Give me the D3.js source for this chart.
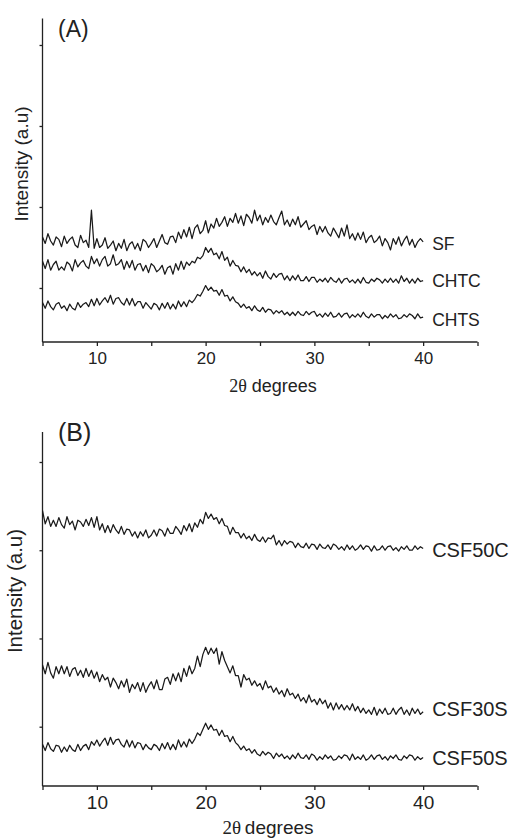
<!DOCTYPE html>
<html>
<head>
<meta charset="utf-8">
<script src="https://cdn.jsdelivr.net/npm/d3@7"></script>
<style>
  body { margin: 0; background: #fff; }
  svg { display: block; font-family: "Liberation Sans", Arial, sans-serif; }
  .axis path, .axis line { stroke: #222; stroke-width: 1.3; }
  .trace { fill: none; stroke: #1a1a1a; stroke-width: 1.25; stroke-linejoin: round; }
</style>
</head>
<body>
<div id="chart-area"></div>
<script>
// XRD patterns, 2theta from 5 to 40 deg, one reading every 0.25 deg (arbitrary intensity units)
const thetaStart = 5, thetaStep = 0.25;
const xTicks = [5, 10, 15, 20, 25, 30, 35, 40, 45];
const xTickLabels = ["", "10", "", "20", "", "30", "", "40", ""];
const yTicks = [100, 200, 300, 400];

// panel A
const namesA = ["SF", "CHTC", "CHTS"];
const SF = [
  163,155,167,158, 153,163,160,151, 164,155,160,163, 153,150,165,156, 159,150,196,149,
  161,150,153,162, 149,153,158,146, 155,149,160,146, 154,157,148,155, 146,160,157,150,
  155,161,150,158, 166,156,154,163, 164,156,169,161, 172,163,175,161, 174,178,167,171,
  183,168,179,174, 186,176,181,188, 176,186,181,192, 180,189,177,191, 187,180,196,183,
  190,178,187,181, 190,182,178,187, 195,178,184,176, 185,178,188,175, 179,183,172,176,
  178,166,176,169, 176,168,164,174, 168,162,174,164, 178,161,167,159, 168,160,169,156,
  162,165,156,159, 164,152,161,156, 147,161,154,163, 152,159,164,153, 160,150,157,161,
  157];
const CHTC = [
  133,124,135,122, 129,133,122,126, 122,132,129,121, 135,126,131,134, 127,124,139,130,
  136,127,135,139, 127,130,141,128, 130,135,123,133, 125,134,122,129, 130,121,128,119,
  130,127,120,123, 128,117,125,127, 117,130,122,133, 123,132,128,133, 131,138,136,140,
  150,144,149,141, 143,136,145,134, 138,127,134,128, 127,120,126,119, 123,116,120,115,
  119,112,121,114, 111,118,113,117, 118,110,115,109, 115,110,116,109, 109,114,108,113,
  113,107,111,108, 112,107,113,109, 107,112,106,111, 112,107,110,106, 111,106,113,107,
  106,111,108,112, 110,106,111,107, 112,107,111,106, 115,108,112,106, 111,106,112,108,
  109];
const CHTS = [
  82,75,84,77, 73,80,82,75, 78,72,80,75, 73,82,76,80, 82,77,86,78,
  87,79,84,88, 82,91,80,87, 88,82,79,87, 79,87,78,83, 83,75,82,78,
  74,81,79,73, 81,75,82,74, 80,74,84,77, 83,77,85,82, 86,92,90,96,
  103,97,101,96, 97,91,98,90, 91,84,89,83, 81,76,80,75, 77,72,78,73,
  71,76,70,74, 73,68,72,69, 72,67,70,66, 70,66,71,67, 66,71,67,70,
  71,65,68,64, 69,65,70,64, 65,69,64,68, 69,63,67,64, 68,64,70,65,
  63,68,64,67, 67,62,66,63, 68,64,67,62, 63,67,64,68, 66,62,68,63,
  64];

// panel B
const namesB = ["CSF50C", "CSF30S", "CSF50S"];
const CSF50C = [
  345,330,338,327, 334,327,337,329, 325,338,329,333, 323,334,332,327, 335,328,337,326,
  338,323,330,320, 328,320,329,323, 319,327,318,324, 323,316,321,314, 321,316,323,314,
  317,323,316,324, 322,316,325,319, 319,327,323,318, 328,322,330,321, 331,326,335,330,
  343,336,341,335, 337,330,336,328, 327,318,326,320, 320,314,319,313, 316,311,318,312,
  310,315,309,314, 313,317,306,311, 305,311,307,310, 309,303,308,304, 303,308,302,307,
  306,301,307,303, 302,306,301,307, 305,301,304,300, 306,301,305,300, 302,306,301,305,
  304,299,305,300, 301,305,300,304, 305,300,303,299, 304,301,305,300, 300,305,301,304,
  302];
const CSF30S = [
  170,160,173,161, 155,168,160,169, 160,168,157,165, 167,158,164,156, 166,157,164,155,
  162,151,159,153, 156,145,155,150, 143,152,145,154, 139,148,143,150, 140,150,139,146,
  151,143,153,142, 142,154,156,148, 160,152,161,151, 166,157,169,160, 166,180,168,182,
  190,182,189,183, 189,171,185,175, 168,161,169,158, 158,145,159,153, 155,147,152,146,
  149,142,152,144, 146,139,144,137, 141,134,143,136, 138,132,137,129, 133,127,136,128,
  131,125,132,126, 130,121,127,119, 127,120,125,119, 124,119,126,118, 123,116,121,115,
  119,114,122,113, 120,115,121,114, 115,121,114,119, 122,114,119,113, 121,115,120,114,
  117];
const CSF50S = [
  80,73,82,75, 72,79,78,71, 77,72,79,74, 72,80,73,78, 80,74,83,79,
  85,78,83,87, 79,88,80,85, 86,80,77,85, 77,84,76,82, 81,74,80,76,
  74,80,78,73, 81,75,82,74, 80,74,85,77, 83,77,86,81, 86,93,90,97,
  104,97,102,96, 97,90,96,89, 90,83,89,82, 79,74,78,73, 75,70,74,69,
  67,72,68,71, 69,64,70,66, 69,64,67,63, 68,64,70,65, 64,68,63,69,
  67,62,66,63, 68,64,67,62, 63,67,64,68, 67,62,69,63, 66,63,68,62,
  64,68,63,67, 68,63,66,62, 67,64,68,63, 62,67,64,68, 67,62,66,63,
  65];

const W = 512, H = 839;
const svg = d3.select("#chart-area").append("svg")
  .attr("width", W).attr("height", H);

function drawPanel(p) {
  const x = d3.scaleLinear().domain([5, 45]).range([42.5, 477.5]);
  const y = d3.scaleLinear().domain(p.yDomain).range([p.bottom, p.top]);
  const g = svg.append("g");

  // axes
  g.append("g").attr("class", "axis")
    .attr("transform", "translate(0," + p.bottom + ")")
    .call(d3.axisBottom(x).tickValues(xTicks).tickSize(4).tickPadding(6)
      .tickFormat((d, i) => xTickLabels[i]))
    .call(a => a.select(".domain").attr("d", "M42.5,0H477.5"))
    .selectAll("text").attr("font-size", p.tickFont).attr("fill", "#222")
      .attr("font-family", "Liberation Sans, Arial, sans-serif");

  g.append("g").attr("class", "axis")
    .attr("transform", "translate(42.5,0)")
    .call(d3.axisLeft(y).tickValues(yTicks).tickSize(3).tickFormat(""))
    .call(a => a.select(".domain").attr("d", "M0," + p.top + "V" + p.bottom));

  // traces
  const line = d3.line()
    .x((d, i) => x(thetaStart + i * thetaStep))
    .y(d => y(d));
  p.series.forEach((s, k) => {
    g.append("path").attr("class", "trace").attr("d", line(s));
    const last = s[s.length - 1];
    g.append("text")
      .attr("x", x(40) + 9)
      .attr("y", y(last) + p.labelShift[k])
      .attr("dy", "0.36em")
      .attr("font-size", p.labelFont)
      .attr("fill", "#222")
      .text(p.names[k]);
  });

  // panel letter
  g.append("text").attr("x", 58).attr("y", p.top + p.letterDy)
    .attr("font-size", p.letterFont).attr("fill", "#222").text(p.letter);

  // y label
  g.append("text")
    .attr("transform", "translate(" + p.yLabelX + "," + p.yLabelY + ") rotate(-90)")
    .attr("text-anchor", "middle")
    .attr("font-size", p.yLabelFont).attr("fill", "#222")
    .text("Intensity (a.u)");

  // x label: serif theta
  const xl = g.append("text")
    .attr("x", p.xLabelX).attr("y", p.xLabelY)
    .attr("text-anchor", "middle")
    .attr("font-size", p.xLabelFont).attr("fill", "#222");
  xl.append("tspan").attr("font-family", "Liberation Serif, Times New Roman, serif").text("2θ");
  xl.append("tspan").text(p.xGap + "degrees");
}

drawPanel({
  top: 18.5, bottom: 342, yDomain: [33.3, 432.7],
  series: [SF, CHTC, CHTS], names: namesA, labelShift: [2, 0, 3],
  tickFont: 17, labelFont: 17.5, letter: "(A)", letterFont: 23, letterDy: 18,
  yLabelX: 28, yLabelY: 164, yLabelFont: 19,
  xLabelX: 273, xLabelY: 392, xLabelFont: 18, xGap: " "
});

drawPanel({
  top: 432, bottom: 786, yDomain: [32.8, 434],
  series: [CSF50C, CSF30S, CSF50S], names: namesB, labelShift: [1, -3, 0],
  tickFont: 19, labelFont: 20, letter: "(B)", letterFont: 25, letterDy: 9,
  yLabelX: 22, yLabelY: 591, yLabelFont: 20.5,
  xLabelX: 268, xLabelY: 834, xLabelFont: 19, xGap: "\u2009"
});
</script>
</body>
</html>
